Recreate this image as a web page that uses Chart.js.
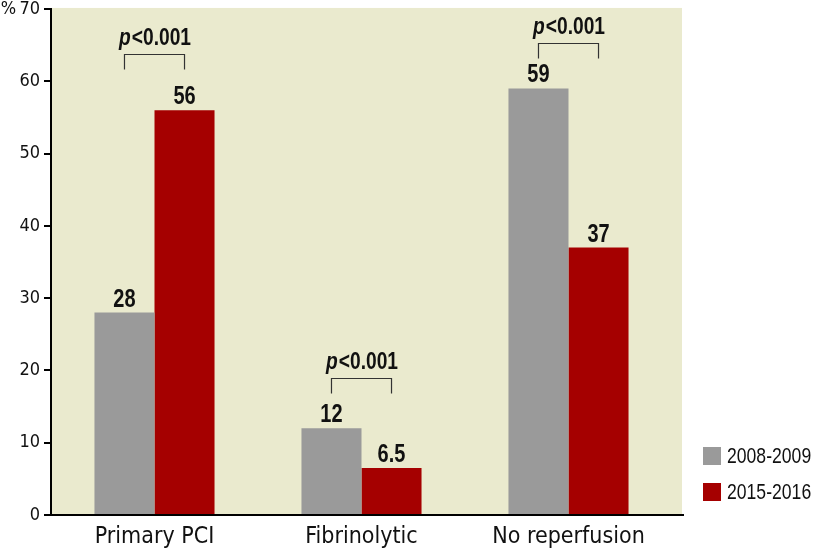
<!DOCTYPE html>
<html><head><meta charset="utf-8">
<script src="https://cdn.jsdelivr.net/npm/chart.js@4"></script>
<style>html,body{margin:0;padding:0;background:#fff}#wrap{width:815px;height:550px}</style>
</head><body><div id="wrap"><canvas id="c" width="815" height="550"></canvas></div>
<script>
const categories = ['Primary PCI', 'Fibrinolytic', 'No reperfusion'];
const seriesNames = ['2008-2009', '2015-2016'];
const values2008 = [28, 12, 59];
const values2015 = [56, 6.5, 37];
const valueLabels2008 = ['28', '12', '59'];
const valueLabels2015 = ['56', '6.5', '37'];
const pValueTexts = ['<0.001', '<0.001', '<0.001'];
const pBracketLevels = [63.8, 19, 65.3];
const yTickValues = [0, 10, 20, 30, 40, 50, 60, 70];

const GRAY = 'rgb(154,154,154)';
const RED = 'rgb(165,0,0)';
const BEIGE = 'rgb(234,234,206)';
const SANS = '"Liberation Sans", Arial, sans-serif';
const COND = '"DejaVu Sans Condensed", sans-serif';
const SQUEEZE = 0.8;

// draw text horizontally condensed (mimics a narrow typeface)
function narrowText(ctx, text, x, y, font, align) {
  ctx.save();
  ctx.font = font;
  const w = ctx.measureText(text).width * SQUEEZE;
  let sx = x;
  if (align === 'center') sx = x - w / 2;
  else if (align === 'right') sx = x - w;
  ctx.translate(sx, y);
  ctx.scale(SQUEEZE, 1);
  ctx.textAlign = 'left';
  ctx.fillText(text, 0, 0);
  ctx.restore();
  return w;
}
function narrowWidth(ctx, text, font) {
  ctx.save(); ctx.font = font;
  const w = ctx.measureText(text).width * SQUEEZE;
  ctx.restore();
  return w;
}

const bgPlugin = {
  id: 'bg',
  beforeDraw(chart) {
    const {ctx, chartArea: a} = chart;
    ctx.save();
    ctx.fillStyle = BEIGE;
    ctx.fillRect(a.left, a.top - 1, a.right + 10 - a.left, a.bottom - a.top + 1);
    ctx.restore();
  }
};

const annoPlugin = {
  id: 'anno',
  afterDatasetsDraw(chart) {
    const ctx = chart.ctx;
    const a = chart.chartArea;
    const ys = chart.scales.y;
    ctx.save();
    ctx.strokeStyle = '#000';
    ctx.lineWidth = 2;
    ctx.beginPath();
    ctx.moveTo(a.left - 1, a.bottom);
    ctx.lineTo(a.right + 12, a.bottom);
    ctx.stroke();

    const labelSets = [valueLabels2008, valueLabels2015];
    ctx.fillStyle = '#111';
    ctx.textBaseline = 'alphabetic';
    const vFont = 'bold 25px ' + SANS;
    chart.data.datasets.forEach((ds, di) => {
      const meta = chart.getDatasetMeta(di);
      meta.data.forEach((bar, i) => {
        narrowText(ctx, labelSets[di][i], bar.x, bar.y - 6, vFont, 'center');
      });
    });

    const m0 = chart.getDatasetMeta(0), m1 = chart.getDatasetMeta(1);
    categories.forEach((c, i) => {
      const x1 = m0.data[i].x, x2 = m1.data[i].x;
      const yl = Math.round(ys.getPixelForValue(pBracketLevels[i])) + 0.5;
      ctx.strokeStyle = '#333';
      ctx.lineWidth = 1.2;
      ctx.beginPath();
      ctx.moveTo(x1, yl + 15);
      ctx.lineTo(x1, yl);
      ctx.lineTo(x2, yl);
      ctx.lineTo(x2, yl + 15);
      ctx.stroke();
      const pFont = 'italic bold 24px ' + SANS;
      const rFont = 'bold 24px ' + SANS;
      const wp = narrowWidth(ctx, 'p', pFont);
      const wr = narrowWidth(ctx, pValueTexts[i], rFont);
      const start = (x1 + x2) / 2 - (wp + wr) / 2;
      ctx.fillStyle = '#111';
      narrowText(ctx, 'p', start, yl - 10, pFont, 'left');
      narrowText(ctx, pValueTexts[i], start + wp + 1, yl - 10, rFont, 'left');
    });
    ctx.restore();
  },
  afterDraw(chart) {
    const ctx = chart.ctx;
    ctx.save();
    ctx.textBaseline = 'middle';
    chart.data.datasets.forEach((ds, i) => {
      const y = 447 + i * 36;
      ctx.fillStyle = ds.backgroundColor;
      ctx.fillRect(703, y, 18, 18);
      ctx.fillStyle = '#111';
      narrowText(ctx, ds.label, 727, y + 10, '22px ' + SANS, 'left');
    });
    ctx.restore();
  }
};

new Chart(document.getElementById('c'), {
  type: 'bar',
  data: {
    labels: categories,
    datasets: [
      {label: seriesNames[0], data: values2008, backgroundColor: GRAY},
      {label: seriesNames[1], data: values2015, backgroundColor: RED}
    ]
  },
  options: {
    responsive: false,
    devicePixelRatio: 1,
    animation: false,
    datasets: {bar: {barPercentage: 1, categoryPercentage: 0.58}},
    layout: {padding: {top: 1, right: 143, left: 0, bottom: 0}},
    plugins: {legend: {display: false}, tooltip: {enabled: false}},
    scales: {
      x: {
        grid: {display: false, drawTicks: false},
        border: {display: false},
        ticks: {font: {family: COND, size: 23}, color: '#111', padding: 8},
        afterFit(s) { s.height = 35; }
      },
      y: {
        min: 0, max: 70,
        afterBuildTicks(s) { s.ticks = yTickValues.map(v => ({value: v})); },
        ticks: {
          font: {family: COND, size: 18, lineHeight: 0.55}, color: '#111', padding: 4,
          callback: v => (v === 70 ? '%\u200970' : String(v))
        },
        grid: {drawOnChartArea: false, drawTicks: true, tickLength: 7, color: '#000', lineWidth: 2},
        border: {color: '#000', width: 2},
        afterFit(s) { s.width = 51; }
      }
    }
  },
  plugins: [bgPlugin, annoPlugin]
});
</script></body></html>
